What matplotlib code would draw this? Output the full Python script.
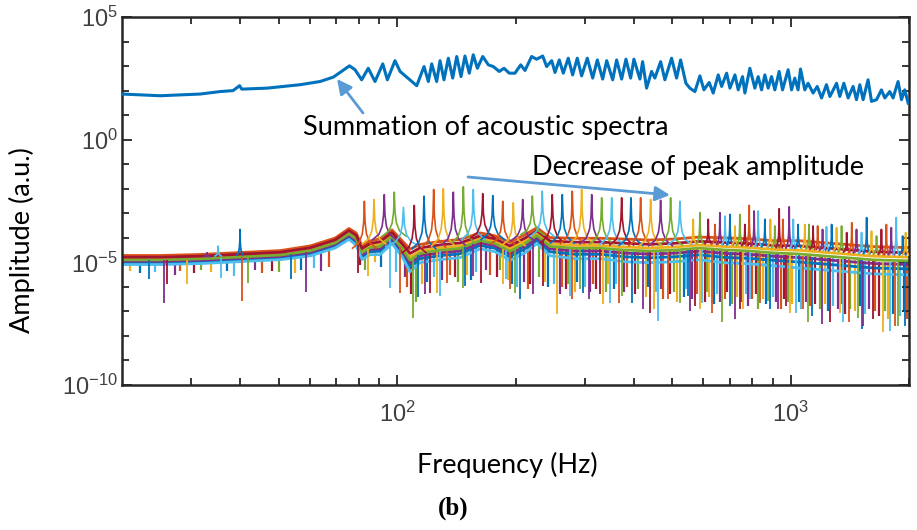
import numpy as np
import matplotlib
matplotlib.use("Agg")
import matplotlib.pyplot as plt
from matplotlib.ticker import FixedLocator, NullFormatter

# ---------------- data ----------------
# summation of acoustic spectra: frequency (Hz) and log10 amplitude
sum_freq = [20, 25, 31.6, 35.5, 38.3, 39.8, 40.3, 46.7, 56.7, 63.7,
            68.9, 75.2, 75.7, 78.2, 81.3, 84.5, 87.9, 92.0, 94.5, 98.8,
            101.8, 112.2, 117.1, 120.1, 122.5, 126.1, 128.6, 131.6, 135.0, 138.5,
            141.8, 145.4, 148.8, 152.6, 156.2, 160.0, 165.1, 170.6, 175.6, 181.9,
            187.0, 192.8, 199.4, 206.2, 211.4, 219.8, 226.3, 234.5, 240.0, 247.2,
            252.0, 258.4, 264.5, 272.3, 279.4, 287.1, 294.5, 304.4, 314.2, 322.8,
            333.1, 341.0, 353.2, 361.4, 372.2, 381.7, 392.3, 399.9, 414.2, 420.8,
            430.7, 443.5, 452.1, 467.5, 479.4, 498.5, 513.3, 525.5, 542.1, 554.9,
            571.4, 588.4, 602.4, 621.3, 636.0, 655.0, 668.1, 688.0, 701.4, 722.2,
            736.3, 755.1, 765.5, 788.2, 811.6, 827.5, 844.0, 860.5, 877.3, 894.8,
            912.3, 935.5, 954.3, 986.0, 1006, 1025, 1045, 1060, 1087, 1108,
            1141, 1169, 1199, 1234, 1259, 1309, 1334, 1366, 1401, 1442,
            1471, 1500, 1529, 1574, 1606, 1654, 1702, 1736, 1787, 1822,
            1876, 1914, 1951, 1990]
sum_log = [1.86, 1.79, 1.86, 1.96, 2.00, 2.20, 2.06, 2.10, 2.24, 2.37,
           2.55, 2.98, 3.01, 2.85, 2.44, 2.91, 2.37, 3.09, 2.44, 3.22,
           2.78, 2.20, 2.98, 2.37, 3.09, 2.37, 3.22, 2.44, 3.32, 2.51,
           3.39, 2.57, 3.41, 2.71, 3.46, 2.91, 3.39, 3.05, 2.98, 2.78,
           2.91, 2.71, 2.71, 3.05, 2.82, 3.39, 3.28, 3.41, 2.98, 3.22,
           2.74, 3.25, 2.71, 3.32, 2.64, 3.32, 2.60, 3.32, 2.51, 3.25,
           2.47, 3.22, 2.44, 3.25, 2.47, 3.28, 2.51, 3.28, 2.47, 3.18,
           2.10, 2.78, 2.51, 3.18, 2.44, 3.32, 2.51, 3.25, 2.30, 2.10,
           1.96, 2.60, 2.03, 2.33, 1.90, 2.64, 2.17, 2.71, 2.10, 2.64,
           2.03, 2.57, 1.90, 2.91, 2.10, 2.57, 2.03, 2.64, 2.10, 2.57,
           2.03, 2.78, 2.03, 2.85, 2.03, 2.51, 2.03, 2.88, 2.03, 2.30,
           1.90, 2.17, 1.70, 2.24, 1.76, 2.30, 1.76, 2.30, 1.70, 2.17,
           1.63, 2.24, 1.63, 2.44, 1.56, 1.63, 2.03, 1.70, 1.96, 1.70,
           2.37, 1.63, 2.03, 1.49]

# bundle of individual spectra: centre (log10) and half-width (decades)
band_freq = [20, 25, 31.6, 40, 50.6, 60.2, 69.6, 75.5, 78.7, 81.5,
             85.4, 90.5, 97.1, 103, 107.9, 114.4, 128.6, 144.6, 162.6, 177.4,
             193.6, 211.4, 226.8, 244.7, 283.9, 328.2, 379.4, 438.5, 507, 586,
             678, 783, 905, 1053, 1217, 1406, 1625, 2000]
band_mid = [-4.92, -4.92, -4.88, -4.80, -4.72, -4.55, -4.23, -3.86, -4.07, -4.63,
            -4.43, -4.39, -3.98, -4.47, -4.96, -4.67, -4.55, -4.47, -4.15, -4.27,
            -4.59, -4.27, -3.94, -4.39, -4.47, -4.47, -4.55, -4.59, -4.55, -4.47,
            -4.55, -4.59, -4.67, -4.72, -4.80, -4.88, -4.96, -5.00]
band_half = [0.20, 0.20, 0.20, 0.20, 0.20, 0.22, 0.22, 0.24, 0.27, 0.30,
             0.30, 0.35, 0.30, 0.35, 0.50, 0.40, 0.40, 0.40, 0.35, 0.35,
             0.40, 0.40, 0.35, 0.40, 0.45, 0.45, 0.50, 0.50, 0.50, 0.50,
             0.55, 0.55, 0.55, 0.60, 0.60, 0.60, 0.60, 0.60]
# relative position of each coloured spectrum inside the bundle (MATLAB colour order)
line_rel = [-0.45, 1.0, 0.35, -0.15, 0.1, -0.85, 0.65]

# resonance peaks of the individual spectra (Hz, log10 amplitude)
peak_freq = [82.6, 87.4, 92.8, 98.4, 103.8, 110.6, 117.1, 123.9, 131.1, 139.0,
             147.4, 156.2, 165.1, 175.1, 185.6, 197.4, 208.6, 220.7, 233.9, 248.0,
             263.0, 278.8, 294.5, 312.4, 331.1, 351.1, 372.2, 393.0, 415.9, 441.0,
             467.5, 495.7, 523.4]
peak_log = [-2.51, -2.44, -2.24, -2.14, -2.76, -2.68, -2.30, -2.03, -2.00, -2.14,
            -1.92, -2.03, -2.20, -2.28, -2.51, -2.57, -2.44, -2.30, -2.10, -2.24,
            -2.24, -2.10, -2.03, -2.24, -2.37, -2.37, -2.37, -2.37, -2.37, -2.44,
            -2.47, -2.37, -2.51]

# narrow upward spikes (Hz, log10 amplitude)
spike_freq = [32.9, 35.1, 39.9, 565.7, 588.4, 617.7, 642.7, 661.4, 681.7, 701.4,
              722.2, 743.4, 765.5, 785.0, 808, 827.5, 860.5, 888.7, 912.3, 935.5,
              956, 992, 1016, 1045, 1087, 1114, 1141, 1172, 1206, 1234,
              1272, 1309, 1348, 1389, 1431, 1471, 1515, 1561, 1606, 1654,
              1702, 1752, 1803, 1856, 1927, 1961]
spike_log = [-4.61, -4.34, -3.66, -3.25, -2.98, -3.25, -3.46, -2.98, -3.12, -3.05,
             -3.52, -3.05, -3.46, -2.68, -2.91, -2.91, -3.25, -3.25, -3.52, -2.82,
             -3.25, -2.74, -3.25, -3.46, -3.46, -3.46, -3.52, -3.52, -3.66, -3.55,
             -3.46, -3.59, -3.52, -3.79, -3.39, -3.66, -3.79, -3.18, -3.73, -3.93,
             -3.66, -3.46, -3.59, -3.18, -3.93, -3.79]

# deep downward dips (Hz, log10 amplitude at the bottom)
dip_freq = [23.4, 25.5, 26.1, 29.3, 35.8, 40.3, 41.9, 53.8, 58.6, 79.8,
            84.5, 96.0, 101.8, 110.0, 113.3, 117.8, 121.3, 126.0, 128.6, 133.8,
            147.4, 148.9, 156.2, 163.9, 186.0, 189.5, 193.6, 199.4, 205.5, 222.0,
            235.0, 254.7, 275.0, 277.7, 292.0, 297.0, 306.6, 328.0, 334.0, 348.0,
            366.0, 372.0, 395.0, 422.0, 439.7, 449.0, 461.3, 488.0, 523.0, 549.0,
            555.0, 571.0, 588.0, 597.0, 630.0, 668.0, 701.0, 721.6, 743.0, 758.0,
            788.0, 836.0, 877.0, 888.7, 930.0, 975.0, 995.0, 1031, 1075, 1108,
            1137, 1200, 1259, 1334, 1361, 1409, 1486, 1515, 1529, 1616,
            1721, 1787, 1840, 1876, 1951]
dip_log = [-5.69, -6.64, -5.89, -5.89, -5.62, -6.57, -5.83, -5.69, -6.21, -5.42,
           -5.56, -6.03, -6.23, -7.25, -6.43, -6.30, -6.23, -6.23, -6.37, -5.83,
           -6.03, -5.96, -5.56, -5.83, -5.89, -5.69, -6.10, -6.23, -6.50, -6.30,
           -5.96, -7.11, -6.37, -6.50, -6.10, -6.23, -6.50, -6.30, -6.71, -6.64,
           -6.64, -6.37, -6.64, -6.91, -7.05, -6.91, -7.39, -6.50, -6.64, -6.37,
           -6.98, -6.78, -6.91, -6.64, -7.05, -7.45, -6.78, -7.32, -6.91, -6.91,
           -6.50, -6.64, -6.57, -6.91, -6.91, -6.78, -7.05, -7.05, -6.91, -7.45,
           -7.18, -7.52, -7.45, -7.05, -7.45, -7.45, -7.25, -7.72, -7.59, -7.32,
           -7.86, -7.79, -7.60, -7.59, -7.59]

# shallower dips forming the dense noise floor (Hz, log10 amplitude)
noise_freq = [21.0, 22.2, 24.3, 27.2, 28.0, 30.5, 31.8, 33.6, 37.0, 38.5,
              43.5, 45.5, 48.0, 50.2, 55.0, 57.0, 61.5, 64.0, 67.0, 80.5,
              83.0, 88.0, 91.0, 99.5, 104.5, 106.0, 108.5, 111.5, 115.5, 119.5,
              124.0, 130.0, 136.0, 140.0, 143.0, 151.0, 154.0, 159.0, 168.0, 172.0,
              180.0, 183.0, 191.0, 196.0, 202.0, 210.0, 215.0, 218.0, 229.0, 238.0,
              242.0, 250.0, 259.0, 262.0, 268.0, 272.0, 283.0, 287.0, 301.0, 310.0,
              315.0, 320.0, 340.0, 343.0, 355.0, 360.0, 378.0, 385.0, 402.0, 410.0,
              430.0, 435.0, 455.0, 468.0, 475.0, 495.0, 505.0, 515.0, 535.0, 542.0,
              562.0, 580.0, 605.0, 612.0, 620.0, 638.0, 650.0, 660.0, 680.0, 690.0,
              710.0, 730.0, 750.0, 770.0, 780.0, 800.0, 815.0, 825.0, 850.0, 865.0,
              900.0, 920.0, 945.0, 965.0, 985.0, 1010, 1050, 1065, 1095, 1120,
              1155, 1185, 1220, 1245, 1285, 1320, 1350, 1375, 1420, 1455,
              1500, 1545, 1580, 1640, 1680, 1740, 1770, 1820, 1900, 1940,
              1980]
noise_log = [-5.35, -5.45, -5.40, -5.50, -5.35, -5.45, -5.30, -5.40, -5.35, -5.55,
             -5.30, -5.45, -5.35, -5.40, -5.45, -5.30, -5.25, -5.35, -5.20, -5.10,
             -5.30, -5.00, -5.20, -5.40, -5.60, -6.00, -6.30, -6.60, -5.90, -5.80,
             -5.60, -5.70, -5.50, -5.60, -5.80, -5.50, -5.70, -5.40, -5.30, -5.50,
             -5.60, -5.30, -5.70, -5.90, -6.00, -5.80, -6.10, -5.90, -5.60, -5.80,
             -6.00, -5.90, -6.30, -6.00, -6.10, -5.90, -6.20, -5.80, -6.00, -6.20,
             -5.90, -6.10, -6.20, -5.90, -6.10, -5.90, -6.20, -6.00, -6.30, -6.10,
             -6.40, -6.00, -6.20, -6.10, -6.50, -6.30, -6.20, -6.60, -6.40, -6.10,
             -6.50, -6.30, -6.60, -6.20, -6.40, -6.70, -6.30, -6.60, -6.50, -6.20,
             -6.70, -6.40, -6.60, -6.30, -6.80, -6.50, -6.30, -6.90, -6.50, -6.70,
             -6.40, -6.60, -6.90, -6.50, -6.60, -6.70, -6.60, -6.90, -6.60, -6.80,
             -6.70, -6.90, -6.70, -7.00, -6.80, -6.90, -6.70, -7.10, -6.90, -7.00,
             -6.80, -7.10, -6.90, -7.00, -7.20, -7.00, -7.30, -7.10, -7.20, -7.00,
             -7.30]

# ---------------- figure ----------------
colors = ['#0072BD', '#D95319', '#EDB120', '#7E2F8E', '#77AC30', '#4DBEEE', '#A2142F']
W, H = 917, 530
fig = plt.figure(figsize=(W / 100, H / 100), dpi=100)
ax = fig.add_axes([122 / W, 145 / H, 787 / W, 368 / H])
ax.set_xscale('log')
ax.set_yscale('log')

lbf = np.log10(band_freq)
mid = np.array(band_mid)
half = np.array(band_half)

# noise floor dips (drawn first, underneath)
for i, (f, b) in enumerate(zip(noise_freq, noise_log)):
    top = np.interp(np.log10(f), lbf, mid)
    ax.vlines(f, 10 ** b, 10 ** top, color=colors[(i * 5 + 2) % 7], lw=1.6, zorder=1.5)

# bundle lines
for c, r in zip(colors, line_rel):
    ax.plot(band_freq, 10 ** (mid + r * half), color=c, lw=2.0, zorder=2)

# deep downward dips
for i, (f, b) in enumerate(zip(dip_freq, dip_log)):
    top = np.interp(np.log10(f), lbf, mid)
    ax.vlines(f, 10 ** b, 10 ** top, color=colors[(i * 3) % 7], lw=1.3, zorder=2.2)

# peak template (relative)
shape_dx = np.array([-1, -0.45, -0.18, -0.06, 0, 0.06, 0.18, 0.45, 1])
shape_dy = np.array([0, 0.12, 0.3, 0.55, 1, 0.55, 0.3, 0.12, 0])


def draw_peak(f0, lp, hw, color, lw):
    base = np.interp(np.log10(f0), lbf, mid + 0.5 * half)
    xs = 10 ** (np.log10(f0) + hw * shape_dx)
    ys = 10 ** (base + (lp - base) * shape_dy)
    ax.plot(xs, ys, color=color, lw=lw, zorder=3)


for k, (f, p) in enumerate(zip(peak_freq, peak_log)):
    hw = 0.045 if f == 103.8 else 0.03
    draw_peak(f, p, hw, colors[(k + 1) % 7], 1.2)

for k, (f, p) in enumerate(zip(spike_freq, spike_log)):
    draw_peak(f, p, 0.008, colors[(k * 2 + 3) % 7], 1.3)

# summation
ax.plot(sum_freq, 10 ** np.array(sum_log), color='#0072BD', lw=2.2, zorder=4)

# axes styling
ax.set_xlim(20, 2000)
ax.set_ylim(1e-10, 1e5)
ax.set_xticks([100, 1000], labels=[r'$\mathregular{10^{2}}$', r'$\mathregular{10^{3}}$'])
ax.xaxis.set_minor_locator(FixedLocator([30, 40, 50, 60, 70, 80, 90,
                                         200, 300, 400, 500, 600, 700, 800, 900, 2000]))
ax.xaxis.set_minor_formatter(NullFormatter())
ax.set_yticks([1e-10, 1e-5, 1e0, 1e5],
              labels=[r'$\mathregular{10^{-10}}$', r'$\mathregular{10^{-5}}$',
                      r'$\mathregular{10^{0}}$', r'$\mathregular{10^{5}}$'])
ax.yaxis.set_minor_locator(FixedLocator([10.0 ** e for e in range(-10, 6)]))
ax.yaxis.set_minor_formatter(NullFormatter())
for lab in ax.get_xticklabels() + ax.get_yticklabels():
    lab.set_fontfamily('Liberation Sans')
    lab.set_fontsize(17)
    lab.set_color('#404040')
ax.tick_params(which='both', direction='in', top=True, right=True,
               color='#262626', width=1.3)
ax.tick_params(which='major', length=7)
ax.tick_params(which='minor', length=5)
ax.tick_params(axis='x', which='major', pad=12)
ax.tick_params(axis='y', which='major', pad=3)
for s in ax.spines.values():
    s.set_linewidth(1.8)
    s.set_color('#262626')

lab_font = dict(family='Lato', size=19.5, color='black')
fig.text(22 / W, 1 - 240 / H, 'Amplitude (a.u.)', rotation=90, ha='center', va='center', **lab_font)
fig.text(507 / W, 1 - 465 / H, 'Frequency (Hz)', ha='center', va='center', **lab_font)
fig.text(453 / W, 1 - 508 / H, '(b)', ha='center', va='center',
         family='Liberation Serif', weight='bold', size=18)

fig.text(303 / W, 1 - 127 / H, 'Summation of acoustic spectra', ha='left', va='center', **lab_font)
fig.text(532 / W, 1 - 168 / H, 'Decrease of peak amplitude', ha='left', va='center', **lab_font)

arrow_kw = dict(arrowstyle='-|>', color='#5B9BD5', lw=2, mutation_scale=22, shrinkA=0, shrinkB=0)
fig.add_artist(matplotlib.patches.FancyArrowPatch((363 / W, 1 - 113 / H), (337 / W, 1 - 79 / H),
                                                  transform=fig.transFigure, **arrow_kw))
fig.add_artist(matplotlib.patches.FancyArrowPatch((468 / W, 1 - 177 / H), (670 / W, 1 - 195 / H),
                                                  transform=fig.transFigure, **arrow_kw))

fig.savefig('out.png', dpi=100)
